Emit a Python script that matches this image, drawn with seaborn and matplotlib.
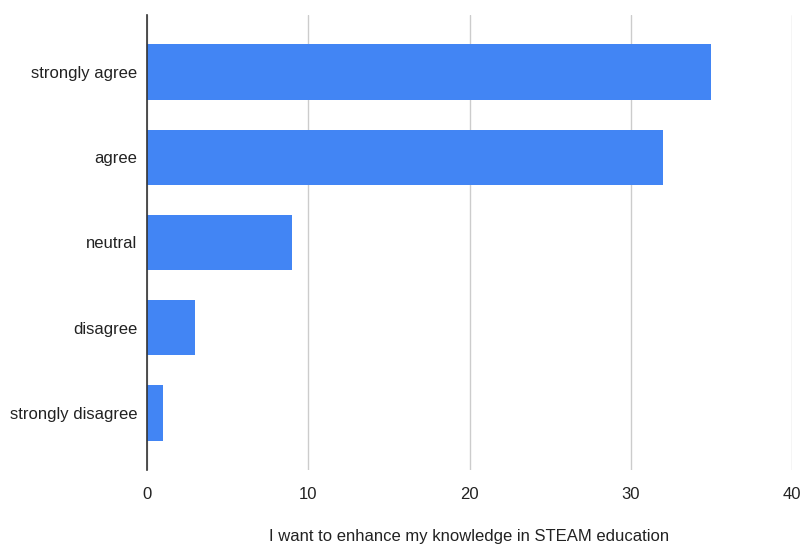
import matplotlib
matplotlib.use("Agg")
import matplotlib.pyplot as plt
import seaborn as sns
import pandas as pd

categories = ["strongly agree", "agree", "neutral", "disagree", "strongly disagree"]
counts = [35, 32, 9, 3, 1]
x_ticks = [0, 10, 20, 30, 40]
x_label = "I want to enhance my knowledge in STEAM education"

sns.set_theme(style="white")
plt.rcParams['font.family'] = ['Liberation Sans', 'DejaVu Sans']

df = pd.DataFrame({"category": categories, "count": counts})

fig = plt.figure(figsize=(8.02, 5.48), dpi=100)
ax = fig.add_axes([147/802, 1-470/548, (792-147)/802, (470-15)/548])

sns.barplot(data=df, y="category", x="count", orient="h", color="#4285F4",
            saturation=1, width=0.65, ax=ax, edgecolor="none")

ax.set_xlim(0, 40)
ax.set_ylim(4.67, -0.67)
ax.set_xticks(x_ticks)
ax.set_xticklabels([str(t) for t in x_ticks], fontsize=12, color="#222222")
ax.tick_params(axis="y", labelsize=12, labelcolor="#222222", length=0, pad=7)
ax.tick_params(axis="x", length=0, pad=12)
ax.grid(axis="x", color="#cccccc", linewidth=1)
ax.set_axisbelow(True)
for s in ["top", "right", "bottom"]:
    ax.spines[s].set_visible(False)
ax.spines["left"].set_color("#333333")
ax.spines["left"].set_linewidth(1.2)
ax.spines["left"].set_zorder(5)
ax.set_ylabel("")
ax.set_xlabel(x_label, fontsize=12, color="#222222", labelpad=20)

fig.savefig("out.png", dpi=100)
